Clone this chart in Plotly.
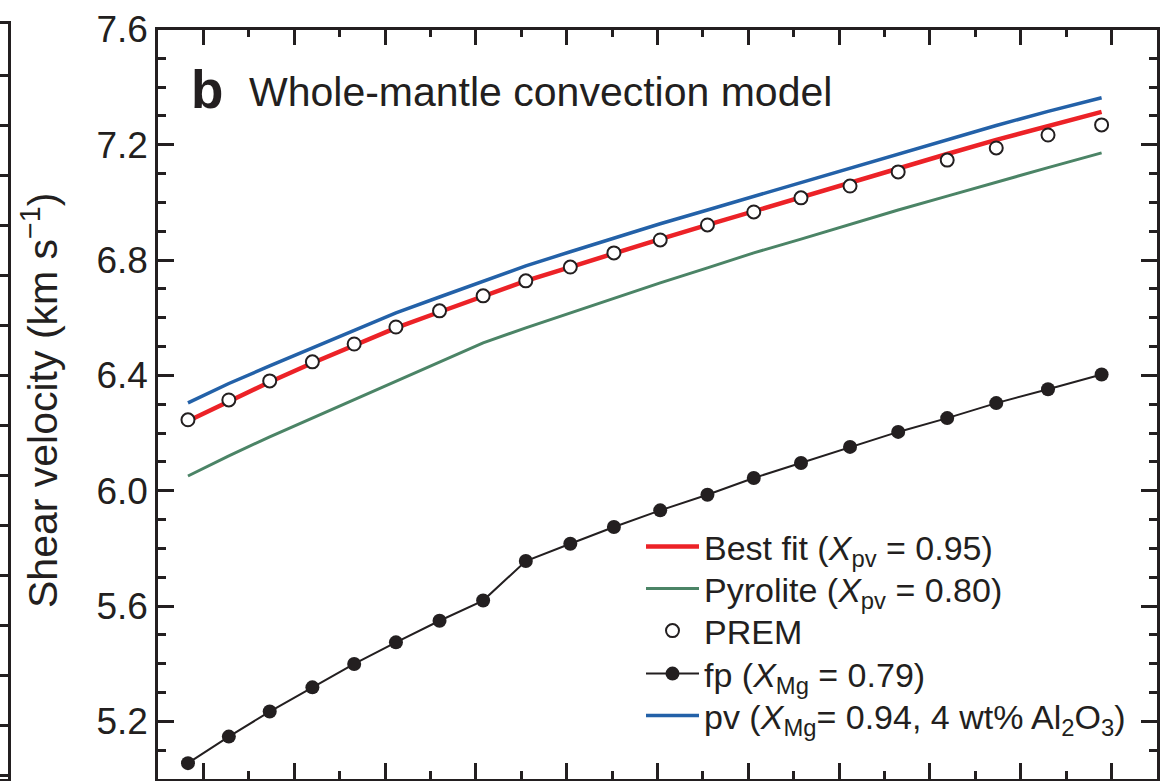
import plotly.graph_objects as go

# Pressure (GPa) of the sampled points
pressure = [28.3, 32.8, 37.3, 42.0, 46.6, 51.2, 56.0, 60.8, 65.5, 70.4, 75.2,
            80.3, 85.5, 90.6, 95.8, 101.2, 106.5, 111.9, 117.3, 123.0, 128.9]

best_fit = [6.242, 6.311, 6.377, 6.443, 6.506, 6.565, 6.620, 6.676, 6.728, 6.776, 6.825,
            6.873, 6.922, 6.970, 7.019, 7.068, 7.116, 7.168, 7.217, 7.265, 7.314]
pyrolite = [6.051, 6.121, 6.187, 6.252, 6.317, 6.381, 6.447, 6.513, 6.565, 6.617, 6.669,
            6.721, 6.773, 6.825, 6.873, 6.925, 6.974, 7.022, 7.071, 7.121, 7.172]
prem = [6.246, 6.315, 6.381, 6.447, 6.509, 6.568, 6.624, 6.676, 6.728, 6.776, 6.825,
        6.870, 6.922, 6.967, 7.016, 7.057, 7.106, 7.147, 7.189, 7.234, 7.269]
fp = [5.055, 5.147, 5.234, 5.318, 5.399, 5.474, 5.549, 5.619, 5.756, 5.816, 5.874,
      5.932, 5.986, 6.044, 6.096, 6.152, 6.204, 6.252, 6.304, 6.352, 6.403]
pv = [6.305, 6.372, 6.433, 6.495, 6.558, 6.617, 6.672, 6.728, 6.780, 6.829, 6.877,
      6.926, 6.974, 7.021, 7.069, 7.118, 7.166, 7.218, 7.267, 7.316, 7.363]

INK = "#231f20"
FONT = "Liberation Sans, Arial, Helvetica, sans-serif"

fig = go.Figure()
fig.add_trace(go.Scatter(x=pressure, y=pv, mode="lines",
                         name="pv (<i>X</i><sub>Mg</sub>= 0.94, 4 wt% Al<sub>2</sub>O<sub>3</sub>)",
                         line=dict(color="#2361a8", width=3.5), legend="legend5"))
fig.add_trace(go.Scatter(x=pressure, y=pyrolite, mode="lines",
                         name="Pyrolite (<i>X</i><sub>pv</sub> = 0.80)",
                         line=dict(color="#4b8466", width=3), legend="legend2"))
fig.add_trace(go.Scatter(x=pressure, y=best_fit, mode="lines",
                         name="Best fit (<i>X</i><sub>pv</sub> = 0.95)",
                         line=dict(color="#ec2227", width=4.5), legend="legend"))
fig.add_trace(go.Scatter(x=pressure, y=fp, mode="lines+markers",
                         name="fp (<i>X</i><sub>Mg</sub> = 0.79)",
                         line=dict(color=INK, width=2),
                         marker=dict(color=INK, size=14, line=dict(width=0)), legend="legend4"))
fig.add_trace(go.Scatter(x=pressure, y=prem, mode="markers", name="PREM",
                         marker=dict(color="white", size=13, line=dict(color=INK, width=2)),
                         legend="legend3"))

# Edge of the neighbouring panel (a) on the left
fig.add_trace(go.Scatter(x=[0], y=[0], xaxis="x2", yaxis="y2", mode="markers",
                         marker=dict(opacity=0), showlegend=False, hoverinfo="skip"))

W, H = 1173, 781
ML, MR, MT, MB = 0, 16, 24, 2
pw = W - ML - MR
ph = H - MT - MB

def px(x):
    return (x - ML) / pw

def py(y):
    return (H - MB - y) / ph

axis_common = dict(showline=True, linecolor=INK, linewidth=2.5, mirror="ticks",
                   ticks="inside", tickcolor=INK, tickwidth=2.5, ticklen=16,
                   showgrid=False, zeroline=False)

def leg(top):
    return dict(x=px(641), y=py(top), xanchor="left", yanchor="top",
                bgcolor="rgba(0,0,0,0)", borderwidth=0,
                font=dict(size=34, family=FONT, color=INK), itemwidth=53)

fig.update_layout(
    width=W, height=H,
    margin=dict(l=ML, r=MR, t=MT, b=MB, pad=0),
    paper_bgcolor="white", plot_bgcolor="white",
    font=dict(family=FONT, color=INK),
    xaxis=dict(domain=[px(158), 1], range=[25, 135], tick0=30, dtick=10,
               showticklabels=False,
               minor=dict(ticks="inside", ticklen=8, tickwidth=2.5, tickcolor=INK, dtick=5, tick0=25),
               **axis_common),
    yaxis=dict(domain=[0, py(29.5)], range=[5.0, 7.6], tick0=5.2, dtick=0.4,
               tickformat=".1f", tickfont=dict(size=37, family=FONT, color=INK),
               minor=dict(ticks="inside", ticklen=8, tickwidth=2.5, tickcolor=INK, dtick=0.1, tick0=5.0),
               **axis_common),
    xaxis2=dict(domain=[0, px(8)], range=[0, 1], showticklabels=False, showline=True,
                linecolor=INK, linewidth=2.5, mirror=True, ticks="", showgrid=False,
                zeroline=False, anchor="y2"),
    yaxis2=dict(domain=[0, 1], range=[0, 15.1], tick0=0.08, dtick=1, side="right",
                showticklabels=False, showline=True, linecolor=INK, linewidth=2.5,
                ticks="inside", ticklen=10, tickwidth=2.5, tickcolor=INK,
                showgrid=False, zeroline=False, anchor="x2"),
    legend=leg(518),
    legend2=leg(560),
    legend3=leg(602),
    legend4=leg(645),
    legend5=leg(687),
    showlegend=True,
)

fig.add_annotation(x=px(189), y=py(89), xref="paper", yref="paper", text="<b>b</b>",
                   showarrow=False, xanchor="left", yanchor="middle",
                   font=dict(size=53, family=FONT, color=INK))
fig.add_annotation(x=px(247), y=py(92), xref="paper", yref="paper",
                   text="Whole-mantle convection model",
                   showarrow=False, xanchor="left", yanchor="middle",
                   font=dict(size=41, family=FONT, color=INK))
fig.add_annotation(x=px(40), y=py(401), xref="paper", yref="paper",
                   text="Shear velocity (km s<sup>−1</sup>)", textangle=-90,
                   showarrow=False, xanchor="center", yanchor="middle",
                   font=dict(size=41, family=FONT, color=INK))

fig.write_html("out.html")
